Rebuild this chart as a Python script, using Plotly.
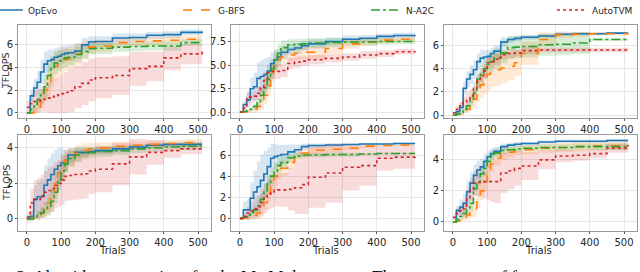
import plotly.graph_objects as go

# ---------------- data ----------------
TRIALS = [0, 10, 20, 30, 40, 50, 60, 70, 80, 90, 100, 110, 120, 140, 160, 180, 200, 250, 300, 350, 400, 450, 512]
ALGOS = ["OpEvo", "G-BFS", "N-A2C", "AutoTVM"]
X_TICKS = [0, 100, 200, 300, 400, 500]

# panel 1 (top-left)
p1_opevo = [0, 1.5, 2.2, 2.7, 3.6, 4.3, 4.6, 4.7, 4.9, 5.0, 5.15, 5.25, 5.3, 5.45, 6.0, 6.25, 6.3, 6.6, 6.65, 6.85, 6.9, 7.1, 7.2]
p1_opevo_sd = [0, 0.5, 0.8, 1.0, 1.1, 1.1, 1.0, 0.9, 0.8, 0.8, 0.8, 0.7, 0.7, 0.7, 0.6, 0.5, 0.45, 0.4, 0.35, 0.3, 0.3, 0.25, 0.2]
p1_gbfs = [0, 0, 0.2, 0.5, 1.3, 2.0, 2.7, 3.6, 4.1, 4.4, 4.6, 4.7, 4.8, 5.2, 5.5, 5.8, 5.9, 6.2, 6.3, 6.35, 6.4, 6.5, 6.6]
p1_gbfs_sd = [0, 0.1, 0.3, 0.5, 0.8, 1.0, 1.2, 1.3, 1.3, 1.2, 1.1, 1.0, 1.0, 0.9, 0.8, 0.6, 0.5, 0.45, 0.4, 0.4, 0.35, 0.3, 0.3]
p1_na2c = [0, 0.3, 0.6, 1.2, 1.6, 2.3, 3.3, 3.9, 4.4, 4.6, 4.75, 4.85, 4.9, 5.15, 5.4, 5.65, 5.7, 5.8, 5.85, 5.9, 5.9, 6.2, 6.2]
p1_na2c_sd = [0, 0.2, 0.4, 0.6, 0.8, 1.0, 1.1, 1.1, 1.0, 0.9, 0.8, 0.8, 0.7, 0.7, 0.6, 0.5, 0.5, 0.4, 0.4, 0.4, 0.4, 0.3, 0.3]
p1_autotvm = [0.5, 0.8, 1.0, 1.05, 1.1, 1.2, 1.3, 1.4, 1.5, 1.6, 1.7, 1.8, 1.95, 2.3, 2.6, 2.9, 3.1, 3.3, 3.9, 4.1, 4.85, 5.2, 5.45]
p1_autotvm_sd = [0.6, 0.9, 1.0, 1.0, 1.0, 1.1, 1.3, 1.4, 1.5, 1.6, 1.7, 1.8, 1.9, 1.9, 1.9, 1.9, 1.8, 1.7, 1.5, 1.3, 1.1, 0.9, 0.7]

# panel 2 (top-middle)
p2_opevo = [0, 0.8, 1.3, 2.5, 2.7, 3.6, 3.8, 4.0, 4.4, 5.2, 5.6, 5.9, 6.4, 6.7, 6.85, 7.1, 7.3, 7.55, 7.8, 7.9, 8.1, 8.2, 8.25]
p2_opevo_sd = [0, 0.4, 0.8, 1.2, 1.5, 1.7, 1.8, 1.7, 1.5, 1.2, 1.0, 0.9, 0.7, 0.6, 0.6, 0.5, 0.5, 0.4, 0.4, 0.35, 0.3, 0.3, 0.3]
p2_gbfs = [0, 0, 0.05, 0.1, 0.3, 0.6, 1.1, 1.8, 2.8, 4.2, 5.3, 5.6, 5.9, 6.1, 6.3, 6.4, 6.4, 6.8, 7.3, 7.5, 7.7, 7.8, 7.95]
p2_gbfs_sd = [0, 0.05, 0.1, 0.2, 0.3, 0.5, 0.8, 1.0, 1.1, 1.1, 0.9, 0.8, 0.7, 0.7, 0.7, 0.7, 0.7, 0.6, 0.5, 0.4, 0.3, 0.3, 0.3]
p2_na2c = [0, 0.05, 0.15, 0.3, 0.6, 1.0, 1.8, 2.6, 3.5, 4.6, 5.6, 6.3, 6.9, 7.2, 7.25, 7.3, 7.4, 7.45, 7.5, 7.5, 7.55, 7.55, 7.55]
p2_na2c_sd = [0, 0.05, 0.1, 0.2, 0.3, 0.5, 0.7, 0.9, 1.0, 1.1, 1.1, 1.0, 0.8, 0.6, 0.6, 0.6, 0.5, 0.5, 0.4, 0.4, 0.35, 0.3, 0.3]
p2_autotvm = [0, 0.4, 1.6, 1.6, 1.7, 2.0, 2.6, 3.4, 4.2, 4.35, 4.35, 4.35, 4.45, 5.2, 5.35, 5.45, 5.6, 5.75, 5.9, 6.1, 6.25, 6.45, 6.5]
p2_autotvm_sd = [0, 0.3, 0.6, 0.6, 0.6, 0.7, 0.8, 0.9, 0.9, 0.8, 0.8, 0.8, 0.7, 0.6, 0.6, 0.5, 0.5, 0.45, 0.4, 0.4, 0.35, 0.3, 0.3]

# panel 3 (top-right)
p3_opevo = [0, 0.3, 0.65, 2.3, 3.1, 3.5, 3.9, 4.6, 4.9, 5.0, 5.05, 5.3, 5.5, 6.3, 6.5, 6.6, 6.7, 6.8, 6.95, 7.0, 7.0, 7.05, 7.05]
p3_opevo_sd = [0, 0.2, 0.4, 0.6, 0.7, 0.8, 0.8, 0.7, 0.7, 0.6, 0.6, 0.5, 0.5, 0.4, 0.3, 0.25, 0.2, 0.15, 0.15, 0.1, 0.1, 0.1, 0.1]
p3_gbfs = [0, 0.05, 0.1, 0.3, 0.5, 0.9, 1.35, 2.0, 2.6, 3.1, 3.5, 3.8, 3.9, 4.05, 4.2, 4.5, 5.3, 6.5, 6.9, 6.95, 7.0, 7.0, 7.05]
p3_gbfs_sd = [0, 0.05, 0.1, 0.2, 0.3, 0.5, 0.7, 0.9, 1.1, 1.3, 1.4, 1.4, 1.4, 1.3, 1.2, 1.1, 1.0, 0.6, 0.3, 0.2, 0.15, 0.1, 0.1]
p3_na2c = [0, 0.1, 0.2, 0.5, 0.8, 1.3, 1.9, 3.1, 3.5, 4.0, 4.35, 4.6, 4.9, 5.35, 5.8, 5.85, 5.9, 6.05, 6.1, 6.2, 6.5, 6.5, 6.5]
p3_na2c_sd = [0, 0.1, 0.2, 0.3, 0.4, 0.5, 0.6, 0.7, 0.8, 0.9, 0.9, 0.9, 0.9, 0.9, 0.95, 0.95, 0.95, 0.95, 0.95, 0.95, 0.1, 0.1, 0.1]
p3_autotvm = [0.2, 0.5, 0.8, 1.1, 1.4, 1.65, 2.3, 2.9, 3.4, 3.8, 4.5, 4.6, 4.8, 5.2, 5.3, 5.35, 5.55, 5.6, 5.6, 5.6, 5.6, 5.6, 5.6]
p3_autotvm_sd = [0.1, 0.3, 0.4, 0.5, 0.6, 0.6, 0.6, 0.6, 0.6, 0.6, 0.5, 0.5, 0.5, 0.4, 0.4, 0.3, 0.3, 0.2, 0.2, 0.2, 0.2, 0.2, 0.2]

# panel 4 (bottom-left)
p4_opevo = [0, 0.15, 1.1, 1.25, 1.25, 1.9, 2.2, 2.5, 2.8, 3.0, 3.15, 3.3, 3.6, 3.75, 3.75, 3.8, 3.85, 3.95, 4.05, 4.15, 4.2, 4.2, 4.2]
p4_opevo_sd = [0, 0.3, 0.8, 0.9, 1.0, 1.1, 1.2, 1.2, 1.1, 1.0, 0.8, 0.6, 0.4, 0.3, 0.25, 0.2, 0.2, 0.2, 0.15, 0.15, 0.15, 0.15, 0.15]
p4_gbfs = [0, 0.02, 0.1, 0.25, 0.35, 0.55, 0.9, 1.3, 2.0, 2.6, 2.95, 3.3, 3.5, 3.7, 3.85, 3.95, 4.0, 4.1, 4.15, 4.2, 4.25, 4.3, 4.35]
p4_gbfs_sd = [0, 0.05, 0.1, 0.2, 0.3, 0.4, 0.5, 0.6, 0.7, 0.7, 0.7, 0.6, 0.5, 0.45, 0.4, 0.35, 0.3, 0.25, 0.2, 0.2, 0.2, 0.2, 0.2]
p4_na2c = [0, 0.02, 0.1, 0.25, 0.35, 0.5, 0.7, 1.0, 1.5, 2.2, 2.7, 3.1, 3.4, 3.6, 3.7, 3.75, 3.8, 3.85, 3.95, 4.0, 4.05, 4.1, 4.1]
p4_na2c_sd = [0, 0.05, 0.1, 0.2, 0.3, 0.4, 0.5, 0.6, 0.6, 0.6, 0.6, 0.5, 0.45, 0.4, 0.35, 0.3, 0.3, 0.25, 0.25, 0.2, 0.2, 0.2, 0.2]
p4_autotvm = [0.1, 0.9, 1.1, 1.1, 1.3, 1.5, 1.6, 1.7, 1.9, 2.0, 2.2, 2.4, 2.45, 2.5, 2.55, 2.7, 2.8, 3.1, 3.5, 3.75, 3.85, 3.95, 4.05]
p4_autotvm_sd = [0.3, 0.8, 1.1, 1.2, 1.2, 1.2, 1.3, 1.3, 1.3, 1.3, 1.4, 1.4, 1.4, 1.4, 1.4, 1.3, 1.3, 1.2, 1.0, 0.7, 0.4, 0.3, 0.25]

# panel 5 (bottom-middle)
p5_opevo = [0, 0.8, 0.8, 1.9, 2.5, 3.0, 3.6, 4.2, 4.9, 5.7, 5.85, 5.95, 6.05, 6.3, 6.5, 6.8, 6.9, 6.95, 7.0, 7.05, 7.05, 7.1, 7.1]
p5_opevo_sd = [0, 0.8, 1.0, 1.5, 2.0, 2.4, 2.4, 2.2, 1.8, 1.4, 1.2, 1.0, 0.9, 0.7, 0.5, 0.3, 0.2, 0.15, 0.1, 0.1, 0.1, 0.1, 0.1]
p5_gbfs = [0, 0.02, 0.1, 0.2, 0.3, 0.5, 0.9, 1.5, 2.4, 3.3, 4.0, 4.5, 4.75, 5.3, 5.9, 6.2, 6.45, 6.55, 6.65, 6.85, 6.9, 6.95, 6.95]
p5_gbfs_sd = [0, 0.05, 0.1, 0.2, 0.3, 0.4, 0.5, 0.7, 0.8, 0.9, 0.9, 0.8, 0.7, 0.6, 0.5, 0.4, 0.35, 0.3, 0.2, 0.15, 0.1, 0.1, 0.1]
p5_na2c = [0, 0.1, 0.3, 0.55, 0.8, 1.2, 1.8, 2.6, 3.3, 4.0, 4.5, 5.0, 5.3, 5.75, 5.9, 6.0, 6.0, 6.05, 6.05, 6.1, 6.15, 6.15, 6.15]
p5_na2c_sd = [0, 0.1, 0.2, 0.3, 0.4, 0.5, 0.6, 0.7, 0.8, 0.8, 0.8, 0.7, 0.6, 0.4, 0.3, 0.25, 0.2, 0.2, 0.2, 0.1, 0.1, 0.1, 0.1]
p5_autotvm = [0, 0.2, 0.5, 0.7, 0.9, 1.1, 1.5, 1.9, 2.3, 2.5, 2.65, 2.7, 2.7, 2.75, 2.9, 3.2, 3.9, 4.3, 4.85, 5.0, 5.7, 5.8, 5.85]
p5_autotvm_sd = [0, 0.3, 0.6, 0.8, 1.0, 1.1, 1.3, 1.4, 1.5, 1.5, 1.5, 1.6, 1.6, 2.0, 2.5, 2.8, 2.9, 2.8, 2.2, 1.9, 1.2, 1.1, 1.0]

# panel 6 (bottom-right)
p6_opevo = [0, 0.75, 0.95, 1.2, 1.95, 2.5, 3.0, 3.35, 3.55, 3.9, 4.2, 4.4, 4.55, 4.85, 4.95, 5.0, 5.05, 5.15, 5.2, 5.2, 5.2, 5.25, 5.25]
p6_opevo_sd = [0, 0.3, 0.5, 0.6, 0.7, 0.7, 0.7, 0.6, 0.5, 0.5, 0.4, 0.35, 0.3, 0.2, 0.15, 0.15, 0.1, 0.1, 0.1, 0.1, 0.1, 0.1, 0.1]
p6_gbfs = [0, 0.05, 0.15, 0.3, 0.45, 0.65, 0.85, 1.5, 2.0, 2.6, 3.2, 3.75, 4.1, 4.4, 4.5, 4.6, 4.65, 4.75, 4.8, 4.85, 4.9, 4.9, 4.95]
p6_gbfs_sd = [0, 0.05, 0.1, 0.2, 0.3, 0.4, 0.5, 0.6, 0.6, 0.6, 0.6, 0.5, 0.45, 0.4, 0.35, 0.3, 0.3, 0.3, 0.3, 0.3, 0.3, 0.3, 0.3]
p6_na2c = [0, 0.15, 0.35, 0.55, 0.9, 1.2, 2.15, 2.6, 3.1, 3.45, 3.9, 4.25, 4.45, 4.6, 4.65, 4.7, 4.75, 4.8, 4.8, 4.85, 4.85, 4.85, 4.85]
p6_na2c_sd = [0, 0.1, 0.2, 0.3, 0.4, 0.5, 0.5, 0.5, 0.5, 0.5, 0.4, 0.35, 0.3, 0.25, 0.2, 0.2, 0.2, 0.2, 0.2, 0.2, 0.2, 0.2, 0.2]
p6_autotvm = [0.3, 0.55, 0.7, 0.85, 1.5, 2.1, 2.5, 2.55, 2.6, 2.6, 2.6, 2.6, 2.6, 3.15, 3.3, 3.45, 3.6, 4.0, 4.25, 4.3, 4.4, 4.75, 4.95]
p6_autotvm_sd = [0.2, 0.3, 0.4, 0.5, 0.6, 0.7, 0.8, 0.9, 1.0, 1.1, 1.2, 1.3, 1.4, 1.3, 1.2, 1.1, 0.9, 0.6, 0.4, 0.35, 0.3, 0.3, 0.3]

P1_TICKS = [0, 2, 4, 6]
P2_TICKS = [0, 2.5, 5, 7.5]
P2_TICK_LABELS = ["0.0", "2.5", "5.0", "7.5"]
P3_TICKS = [0, 2, 4, 6]
P4_TICKS = [0, 2, 4]
P5_TICKS = [0, 2, 4, 6]
P6_TICKS = [0, 2, 4]

CAPTION = "Figure 2: Algorithm comparison for the MatMul operators. The convergence of four"

# ---------------- figure ----------------
PANELS = [
    ([p1_opevo, p1_gbfs, p1_na2c, p1_autotvm], [p1_opevo_sd, p1_gbfs_sd, p1_na2c_sd, p1_autotvm_sd], P1_TICKS, None),
    ([p2_opevo, p2_gbfs, p2_na2c, p2_autotvm], [p2_opevo_sd, p2_gbfs_sd, p2_na2c_sd, p2_autotvm_sd], P2_TICKS, P2_TICK_LABELS),
    ([p3_opevo, p3_gbfs, p3_na2c, p3_autotvm], [p3_opevo_sd, p3_gbfs_sd, p3_na2c_sd, p3_autotvm_sd], P3_TICKS, None),
    ([p4_opevo, p4_gbfs, p4_na2c, p4_autotvm], [p4_opevo_sd, p4_gbfs_sd, p4_na2c_sd, p4_autotvm_sd], P4_TICKS, None),
    ([p5_opevo, p5_gbfs, p5_na2c, p5_autotvm], [p5_opevo_sd, p5_gbfs_sd, p5_na2c_sd, p5_autotvm_sd], P5_TICKS, None),
    ([p6_opevo, p6_gbfs, p6_na2c, p6_autotvm], [p6_opevo_sd, p6_gbfs_sd, p6_na2c_sd, p6_autotvm_sd], P6_TICKS, None),
]

COLORS = ["#1f77b4", "#ff7f0e", "#2ca02c", "#d62728"]
FILLS = ["rgba(31,119,180,0.18)", "rgba(255,127,14,0.18)", "rgba(44,160,44,0.18)", "rgba(214,39,40,0.16)"]
DASHES = ["solid", "dash", "dashdot", "dot"]
LEGENDS = ["legend", "legend2", "legend3", "legend4"]

W, H = 640, 272
X_DOM = [[18 / W, 211 / W], [231 / W, 424 / W], [444 / W, 637 / W]]
Y_DOM = [[1 - 118 / H, 1 - 25 / H], [1 - 231 / H, 1 - 135 / H]]
Y_RANGES = [[-0.45, 7.75], [-0.64, 9.32], [-0.25, 7.75], [-0.68, 4.73], [-1.2, 7.9], [-0.58, 5.6]]
X_RANGE = [-26, 538]

FONT = "DejaVu Sans"
TXT = "#262626"

fig = go.Figure()
layout = {}

for k, (means, sds, yticks, yticklabels) in enumerate(PANELS):
    suf = "" if k == 0 else str(k + 1)
    xa, ya = "x" + suf, "y" + suf
    row, col = divmod(k, 3)
    # bands
    for s in range(4):
        upper = [m + d for m, d in zip(means[s], sds[s])]
        lower = [m - d for m, d in zip(means[s], sds[s])]
        fig.add_trace(go.Scatter(x=TRIALS, y=upper, mode="lines", line=dict(width=0, shape="hv"),
                                 xaxis=xa, yaxis=ya, showlegend=False, hoverinfo="skip"))
        fig.add_trace(go.Scatter(x=TRIALS, y=lower, mode="lines", line=dict(width=0, shape="hv"),
                                 fill="tonexty", fillcolor=FILLS[s],
                                 xaxis=xa, yaxis=ya, showlegend=False, hoverinfo="skip"))
    # mean lines
    for s in range(4):
        fig.add_trace(go.Scatter(x=TRIALS, y=means[s], mode="lines", name=ALGOS[s],
                                 line=dict(color=COLORS[s], width=1.6, dash=DASHES[s], shape="hv"),
                                 xaxis=xa, yaxis=ya, showlegend=(k == 0), legend=LEGENDS[s]))
    axcommon = dict(showgrid=True, gridcolor="#e6e6e6", gridwidth=1, zeroline=False,
                    showline=True, linecolor="#9a9a9a", linewidth=1, mirror=True,
                    ticks="outside", ticklen=2, tickcolor="#555", tickwidth=1,
                    tickfont=dict(family=FONT, size=10, color=TXT))
    layout["xaxis" + suf] = dict(axcommon, domain=X_DOM[col], range=X_RANGE, anchor=ya,
                                 tickvals=X_TICKS)
    ydict = dict(axcommon, domain=Y_DOM[row], range=Y_RANGES[k], anchor=xa, tickvals=yticks)
    if yticklabels:
        ydict["ticktext"] = yticklabels
    layout["yaxis" + suf] = ydict

legend_x_px = [-12, 178, 366, 552]
for i, lg in enumerate(LEGENDS):
    layout[lg] = dict(x=legend_x_px[i] / W, y=1 - 10 / H, xanchor="left", yanchor="middle",
                      orientation="h", bgcolor="rgba(0,0,0,0)", borderwidth=0,
                      font=dict(family=FONT, size=9, color=TXT), itemwidth=30)

annotations = []
for row_center in [71, 183]:
    annotations.append(dict(text="TFLOPS", x=6 / W, y=1 - row_center / H, xref="paper", yref="paper",
                            showarrow=False, textangle=-90, xanchor="center", yanchor="middle",
                            font=dict(family=FONT, size=9.5, color=TXT)))
for xc in [112, 325, 538]:
    annotations.append(dict(text="Trials", x=xc / W, y=1 - 250 / H, xref="paper", yref="paper",
                            showarrow=False, xanchor="center", yanchor="middle",
                            font=dict(family=FONT, size=10, color=TXT)))
annotations.append(dict(text=CAPTION, x=-34 / W, y=1 - 265 / H, xref="paper", yref="paper",
                        showarrow=False, xanchor="left", yanchor="top",
                        font=dict(family="Liberation Serif", size=17, color="#000")))

fig.update_layout(width=W, height=H, margin=dict(l=0, r=0, t=0, b=0, autoexpand=False),
                  paper_bgcolor="white", plot_bgcolor="white",
                  font=dict(family=FONT, size=10, color=TXT),
                  annotations=annotations, **layout)

fig.write_html("out.html", config={"displayModeBar": False},
               post_script="document.body.style.margin='0';document.body.style.padding='0';"
                           "document.body.style.overflow='hidden';")
